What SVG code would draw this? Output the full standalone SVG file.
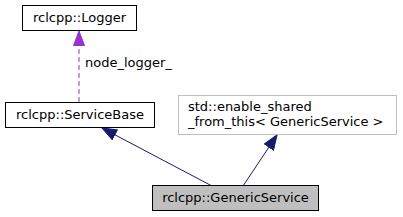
<svg xmlns="http://www.w3.org/2000/svg" width="403" height="217" viewBox="0 0 403 217">
<defs>
<marker id="ah" markerWidth="16" markerHeight="12" refX="15" refY="6" orient="auto" markerUnits="userSpaceOnUse"><path d="M0.5,0.5 L15,6 L0.5,11.5 Z" fill="#191970" stroke="#191970"/></marker>
<marker id="ahp" markerWidth="16" markerHeight="12" refX="15" refY="6" orient="auto" markerUnits="userSpaceOnUse"><path d="M0.5,0.5 L15,6 L0.5,11.5 Z" fill="#9a32cd" stroke="#9a32cd"/></marker>
</defs>
<style>
text{font-family:"DejaVu Sans",sans-serif;font-size:13px;fill:#000}
.box{fill:#fff;stroke:#000;stroke-width:1}
</style>
<rect width="403" height="217" fill="#fff"/>
<g id="connectors">
<line x1="79" y1="102" x2="79" y2="31" stroke="#9a32cd" stroke-width="1" stroke-dasharray="5,3" marker-end="url(#ahp)"/>
<text x="85" y="67">node_logger_</text>
<line x1="212" y1="186" x2="102" y2="128" stroke="#191970" marker-end="url(#ah)"/>
<line x1="243" y1="186" x2="277" y2="135" stroke="#191970" marker-end="url(#ah)"/>
</g>
<g id="logger">
<rect class="box" x="22.5" y="5.5" width="114" height="25"/>
<text x="79.5" y="22" text-anchor="middle">rclcpp::Logger</text>
</g>
<g id="servicebase">
<rect class="box" x="5.5" y="102.5" width="149" height="25"/>
<text x="80" y="119" text-anchor="middle">rclcpp::ServiceBase</text>
</g>
<g id="enable_shared">
<rect x="178.5" y="95.5" width="218" height="39" fill="#fff" stroke="#bfbfbf"/>
<text x="188" y="110.5">std::enable_shared</text>
<text x="188" y="126">_from_this&lt; GenericService &gt;</text>
</g>
<g id="genericservice">
<rect x="152.5" y="185.5" width="166" height="25" fill="#bfbfbf" stroke="#000"/>
<text x="235.5" y="202" text-anchor="middle">rclcpp::GenericService</text>
</g>
</svg>
